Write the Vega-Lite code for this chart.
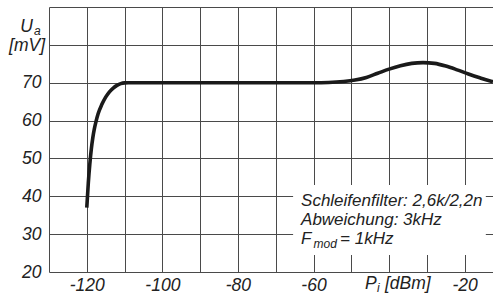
{
  "$schema": "https://vega.github.io/schema/vega-lite/v6.json",
  "width": 444,
  "height": 265,
  "autosize": {"type": "none"},
  "padding": {"left": 49, "top": 7, "right": 0, "bottom": 26},
  "background": "white",
  "data": {"values": [{"k": 1}]},
  "resolve": {"axis": {"x": "independent", "y": "independent"}},
  "config": {
    "view": {"stroke": null},
    "text": {"font": "Liberation Sans, Arial, sans-serif", "fontStyle": "italic", "color": "#222"},
    "axis": {
      "labelFont": "Liberation Sans, Arial, sans-serif",
      "labelFontStyle": "italic",
      "labelFontSize": 17.5,
      "labelColor": "#222",
      "gridColor": "#4a4a4a",
      "gridWidth": 1,
      "gridOpacity": 1,
      "domain": false,
      "ticks": false,
      "labelOverlap": false,
      "labelFlush": false,
      "title": null
    }
  },
  "datasets": {
    "curve": [
      {"p": -120, "u": 37},
      {"p": -119.6, "u": 43.5},
      {"p": -119.2, "u": 48.5},
      {"p": -118.8, "u": 52.5},
      {"p": -118.4, "u": 55.5},
      {"p": -118, "u": 57.8},
      {"p": -117.5, "u": 60},
      {"p": -117, "u": 61.8},
      {"p": -116, "u": 64.3},
      {"p": -115, "u": 66.2},
      {"p": -114, "u": 67.6},
      {"p": -113, "u": 68.6},
      {"p": -112, "u": 69.3},
      {"p": -111, "u": 69.75},
      {"p": -110, "u": 69.95},
      {"p": -109, "u": 70},
      {"p": -100, "u": 70},
      {"p": -80, "u": 70},
      {"p": -60, "u": 70},
      {"p": -56, "u": 70.05},
      {"p": -52, "u": 70.3},
      {"p": -49, "u": 70.7},
      {"p": -46, "u": 71.4},
      {"p": -43, "u": 72.5},
      {"p": -40, "u": 73.6},
      {"p": -37, "u": 74.5},
      {"p": -34, "u": 75.1},
      {"p": -31, "u": 75.3},
      {"p": -28, "u": 75.1},
      {"p": -25, "u": 74.4},
      {"p": -22, "u": 73.4},
      {"p": -19, "u": 72.3},
      {"p": -16, "u": 71.3},
      {"p": -13, "u": 70.4},
      {"p": -12.5, "u": 70.3}
    ]
  },
  "layer": [
    {
      "data": {"name": "curve"},
      "mark": {"type": "line", "interpolate": "monotone", "color": "#1a1a1a", "strokeWidth": 3.6, "clip": true},
      "encoding": {
        "x": {
          "field": "p", "type": "quantitative",
          "scale": {"domain": [-130, -12.5], "nice": false, "zero": false},
          "axis": {
            "values": [-130, -120, -110, -100, -90, -80, -70, -60, -50, -40, -30, -20],
            "labelExpr": "indexof([-120, -100, -80, -60, -20], datum.value) >= 0 ? '-' + abs(datum.value) : ''",
            "labelPadding": 4
          }
        },
        "y": {
          "field": "u", "type": "quantitative",
          "scale": {"domain": [20, 90], "nice": false, "zero": false},
          "axis": {
            "values": [20, 30, 40, 50, 60, 70, 80, 90],
            "labelExpr": "datum.value <= 70 ? datum.label : ''",
            "labelPadding": 8
          }
        }
      }
    },
    {
      "mark": {"type": "rect", "fill": "white"},
      "encoding": {
        "x": {"datum": -65.4, "type": "quantitative", "axis": null},
        "x2": {"datum": -14.4},
        "y": {"datum": 24.5, "type": "quantitative", "axis": null},
        "y2": {"datum": 43}
      }
    },
    {
      "mark": {"type": "text", "align": "left", "baseline": "alphabetic", "fontSize": 17},
      "encoding": {
        "x": {"datum": -63.3, "type": "quantitative", "axis": null},
        "y": {"datum": 37.5, "type": "quantitative", "axis": null},
        "text": {"value": "Schleifenfilter: 2,6k/2,2n"}
      }
    },
    {
      "mark": {"type": "text", "align": "left", "baseline": "alphabetic", "fontSize": 17},
      "encoding": {
        "x": {"datum": -63.3, "type": "quantitative", "axis": null},
        "y": {"datum": 32.3, "type": "quantitative", "axis": null},
        "text": {"value": "Abweichung: 3kHz"}
      }
    },
    {
      "mark": {"type": "text", "align": "left", "baseline": "alphabetic", "fontSize": 17},
      "encoding": {
        "x": {"datum": -63.3, "type": "quantitative", "axis": null},
        "y": {"datum": 27.4, "type": "quantitative", "axis": null},
        "text": {"value": "F"}
      }
    },
    {
      "mark": {"type": "text", "align": "left", "baseline": "alphabetic", "fontSize": 12, "dx": 12.5, "dy": 4},
      "encoding": {
        "x": {"datum": -63.3, "type": "quantitative", "axis": null},
        "y": {"datum": 27.4, "type": "quantitative", "axis": null},
        "text": {"value": "mod"}
      }
    },
    {
      "mark": {"type": "text", "align": "left", "baseline": "alphabetic", "fontSize": 17, "dx": 39},
      "encoding": {
        "x": {"datum": -63.3, "type": "quantitative", "axis": null},
        "y": {"datum": 27.4, "type": "quantitative", "axis": null},
        "text": {"value": "= 1kHz"}
      }
    },
    {
      "mark": {"type": "text", "align": "right", "baseline": "middle", "fontSize": 17.5, "dx": -16},
      "encoding": {
        "x": {"datum": -130, "type": "quantitative", "axis": null},
        "y": {"datum": 84.6, "type": "quantitative", "axis": null},
        "text": {"value": "U"}
      }
    },
    {
      "mark": {"type": "text", "align": "left", "baseline": "middle", "fontSize": 12, "dx": -15, "dy": 4},
      "encoding": {
        "x": {"datum": -130, "type": "quantitative", "axis": null},
        "y": {"datum": 84.6, "type": "quantitative", "axis": null},
        "text": {"value": "a"}
      }
    },
    {
      "mark": {"type": "text", "align": "right", "baseline": "middle", "fontSize": 17.5, "dx": -4},
      "encoding": {
        "x": {"datum": -130, "type": "quantitative", "axis": null},
        "y": {"datum": 79.8, "type": "quantitative", "axis": null},
        "text": {"value": "[mV]"}
      }
    },
    {
      "mark": {"type": "text", "align": "left", "baseline": "middle", "fontSize": 17.5, "dy": 12},
      "encoding": {
        "x": {"datum": -46.4, "type": "quantitative", "axis": null},
        "y": {"datum": 20, "type": "quantitative", "axis": null},
        "text": {"value": "P"}
      }
    },
    {
      "mark": {"type": "text", "align": "left", "baseline": "middle", "fontSize": 12, "dx": 12, "dy": 16},
      "encoding": {
        "x": {"datum": -46.4, "type": "quantitative", "axis": null},
        "y": {"datum": 20, "type": "quantitative", "axis": null},
        "text": {"value": "i"}
      }
    },
    {
      "mark": {"type": "text", "align": "left", "baseline": "middle", "fontSize": 17.5, "dx": 20, "dy": 12},
      "encoding": {
        "x": {"datum": -46.4, "type": "quantitative", "axis": null},
        "y": {"datum": 20, "type": "quantitative", "axis": null},
        "text": {"value": "[dBm]"}
      }
    }
  ]
}
